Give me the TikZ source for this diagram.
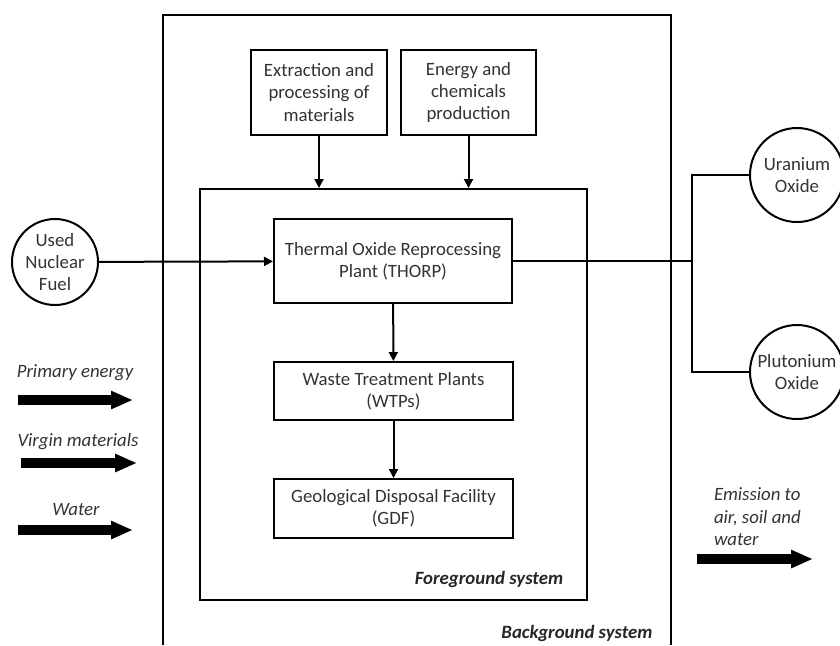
\documentclass[tikz,border=0pt]{standalone}
\usepackage{fontspec}
\setmainfont{Carlito}
\usetikzlibrary{arrows.meta}
\begin{document}
\begin{tikzpicture}[x=0.5pt,y=-0.5pt,line width=1pt,
        font=\fontsize{9.4}{11.2}\selectfont,
        box/.style={draw,align=center,text=black!80,inner sep=1pt},
        ball/.style={draw,circle,align=center,text=black!80,inner sep=0pt},
        flow/.style={-{Triangle[length=4.5pt,width=4.5pt]}},
        fat/.style={line width=5pt,-{Triangle[length=11pt,width=8.5pt]}},
        note/.style={text=black!80,font=\fontsize{9.4}{11.2}\selectfont\itshape,inner sep=0pt},
        sysname/.style={text=black!85,font=\fontsize{9.4}{11.2}\selectfont\bfseries\itshape,inner sep=0pt}]
    \useasboundingbox (0,0) rectangle (840,645);

        \draw (163,645) -- (163,15) -- (671,15) -- (671,645);
        \node[sysname] (bglabel) at (577,633) {Background system};

        \node[draw,minimum width=193.5pt,minimum height=205.5pt] (fg) at (393.5,394.5) {};
        \node[sysname] (fglabel) at (489,579) {Foreground system};

        \node[box,minimum width=68pt,minimum height=42.5pt] (extract) at (319,92.5) {Extraction and\\processing of\\materials};
        \node[box,minimum width=67.5pt,minimum height=42.5pt] (energy) at (468.5,92.5) {Energy and\\chemicals\\production};

        \node[box,minimum width=119pt,minimum height=42pt] (thorp) at (393,261) {Thermal Oxide Reprocessing\\Plant (THORP)};
        \node[box,minimum width=119.5pt,minimum height=29pt] (wtp) at (393.5,391) {Waste Treatment Plants\\(WTPs)};
        \node[box,minimum width=119.5pt,minimum height=29.5pt] (gdf) at (393.5,508.5) {Geological Disposal Facility\\(GDF)};

        \node[ball,minimum size=43pt] (fuel) at (55,262) {Used\\Nuclear\\Fuel};
        \node[ball,minimum size=47pt] (uo) at (797,175) {Uranium\\Oxide};
        \node[ball,minimum size=47pt] (puo) at (797,372) {Plutonium\\Oxide};
        \coordinate (split) at (692,261);

        \draw[flow] (extract) -- (extract |- fg.north);
        \draw[flow] (energy) -- (energy |- fg.north);
        \draw[flow] (fuel) -- (thorp);
        \draw[flow] (thorp) -- (wtp);
        \draw[flow] (wtp) -- (gdf);
        \draw[-] (thorp) -- (split);
        \draw[-] (split) |- (uo);
        \draw[-] (split) |- (puo);

        \node[note] (primary) at (75,373) {Primary energy};
        \node[note] (virgin) at (78,442) {Virgin materials};
        \node[note] (water) at (76,510) {Water};
        \node[note,anchor=north west,align=left] (emission) at (713,487) {Emission to\\air, soil and\\water};

        \coordinate (primaryA) at (18,400);
        \coordinate (primaryB) at (133,400);
        \coordinate (virginA) at (21,463);
        \coordinate (virginB) at (137,463);
        \coordinate (waterA) at (18,530);
        \coordinate (waterB) at (133,530);
        \coordinate (emissionA) at (697,559);
        \coordinate (emissionB) at (813,559);
        \draw[fat] (primaryA) -- (primaryB);
        \draw[fat] (virginA) -- (virginB);
        \draw[fat] (waterA) -- (waterB);
        \draw[fat] (emissionA) -- (emissionB);
    \end{tikzpicture}
\end{document}
